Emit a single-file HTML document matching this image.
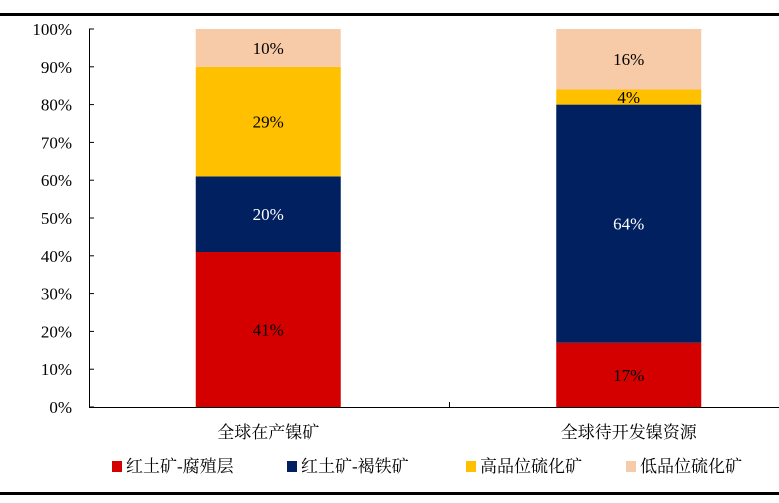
<!DOCTYPE html>
<html><head><meta charset="utf-8"><style>
body{margin:0;width:779px;height:503px;background:#fff;overflow:hidden;font-family:"Liberation Serif","Noto Serif CJK SC",serif;}
</style></head><body>
<svg width="779" height="503" style="position:absolute;left:0;top:0">
<rect x="0" y="0" width="779" height="503" fill="#fff"/>
<line x1="0" y1="14.5" x2="779" y2="14.5" stroke="#000" stroke-width="3"/>
<line x1="0" y1="493.5" x2="779" y2="493.5" stroke="#000" stroke-width="3"/>
<g id="plot"></g>
</svg>
<script>
const categories=["全球在产镍矿","全球待开发镍资源"];
const seriesNames=["红土矿-腐殖层","红土矿-褐铁矿","高品位硫化矿","低品位硫化矿"];
const s1=[41,17];
const s2=[20,63];
const s3=[29,4];
const s4=[10,16];
const labels1=["41%","17%"];
const labels2=["20%","64%"];
const labels3=["29%","4%"];
const labels4=["10%","16%"];
const yTicks=[0,10,20,30,40,50,60,70,80,90,100];
const colors=["#d40000","#002060","#ffc000","#f8cba8"];
const NS="http://www.w3.org/2000/svg";
const g=document.getElementById('plot');
const x0=89,x1=809,y0=407,y100=29;
const y=v=>y0-(y0-y100)*v/100;
const catW=(x1-x0)/categories.length*0.999;
const bw=145;
const xc=i=>x0+ (i+0.5)*(719/2)+ (i===0?-0.5:0.5);
function mk(t,a,txt){const e=document.createElementNS(NS,t);for(const k in a)e.setAttribute(k,a[k]);if(txt!==undefined)e.textContent=txt;g.appendChild(e);return e;}
yTicks.forEach(v=>{
 const t=mk('text',{x:72,y:y(v)+6,'text-anchor':'end','font-size':17,fill:'#000'},v+'%');
 
 
 const l=mk('line',{x1:89,x2:94,y1:y(v),y2:y(v),stroke:'#000'});
 
 
});
const series=[s1,s2,s3,s4];const labs=[labels1,labels2,labels3,labels4];
categories.forEach((c,i)=>{
 let cum=0;const cx=xc(i);
 series.forEach((s,k)=>{
  const v=s[i];
  const r=mk('rect',{x:cx-bw/2,y:y(cum+v),width:bw,height:y(cum)-y(cum+v),fill:colors[k]});
  
  
  const t=mk('text',{x:cx,y:(y(cum)+y(cum+v))/2+6,'text-anchor':'middle','font-size':17,fill:k===1?'#fff':'#000'},labs[k][i]);
  
  
  cum+=v;
 });
 const ct=mk('text',{x:cx,y:438,'text-anchor':'middle','font-size':17,fill:'#000'},c);
 
 
});
const ya=mk('line',{x1:89.5,x2:89.5,y1:29,y2:407,stroke:'#000'});


const xa=mk('line',{x1:89,x2:779,y1:407.5,y2:407.5,stroke:'#000'});


const mt=mk('line',{x1:449.5,x2:449.5,y1:402,y2:407,stroke:'#000'});


const lx=[112,287,466,626];
seriesNames.forEach((n,k)=>{
 const r=mk('rect',{x:lx[k],y:461,width:10,height:11,fill:colors[k]});
 
 
 const t=mk('text',{x:lx[k]+14,y:472,'font-size':17,fill:'#000'},n);
 
 
});
</script>
</body></html>
